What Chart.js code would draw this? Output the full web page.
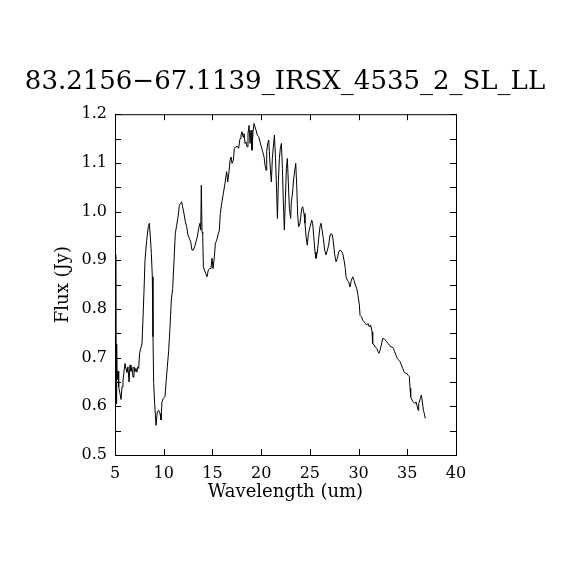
<!DOCTYPE html>
<html>
<head>
<meta charset="utf-8">
<script src="https://cdn.jsdelivr.net/npm/chart.js@4.4.1/dist/chart.umd.min.js"></script>
<style>
  html, body { margin: 0; padding: 0; background: #fff; }
  canvas { display: block; }
</style>
</head>
<body>
<canvas id="myChart" width="570" height="570"></canvas>
<script>
const chartTitle = "83.2156\u221267.1139_IRSX_4535_2_SL_LL";
const xLabel = "Wavelength (um)";
const yLabel = "Flux (Jy)";

// spectrum
const wavelength = [
    5.10, 5.13, 5.17, 5.22, 5.31, 5.38, 5.51, 5.62, 5.72, 5.82,
    5.92, 6.03, 6.13, 6.23, 6.33, 6.44, 6.54, 6.64, 6.74, 6.85,
    6.95, 7.05, 7.15, 7.25, 7.35, 7.43, 7.53, 7.64, 7.77, 7.88,
    7.98, 8.08, 8.25, 8.42, 8.52, 8.63, 8.73, 8.83, 8.90, 8.97,
    9.07, 9.21, 9.34, 9.48, 9.62, 9.72, 9.82, 9.96, 10.13, 10.23,
    10.37, 10.51, 10.64, 10.78, 10.92, 11.06, 11.19, 11.33, 11.50, 11.60,
    11.74, 11.84, 11.94, 12.08, 12.22, 12.36, 12.49, 12.63, 12.77, 12.90,
    13.04, 13.18, 13.31, 13.45, 13.59, 13.72, 13.80, 13.86, 13.93, 14.00,
    14.07, 14.17, 14.31, 14.44, 14.58, 14.72, 14.85, 14.96, 15.06, 15.20,
    15.30, 15.43, 15.57, 15.71, 15.81, 15.95, 16.12, 16.29, 16.46, 16.57,
    16.70, 16.81, 16.91, 17.01, 17.15, 17.25, 17.39, 17.56, 17.69, 17.83,
    17.93, 18.04, 18.14, 18.24, 18.35, 18.45, 18.55, 18.65, 18.76, 18.86,
    18.96, 19.06, 19.17, 19.27, 19.37, 19.48, 19.61, 19.75, 19.89, 20.02,
    20.16, 20.30, 20.40, 20.50, 20.57, 20.67, 20.78, 20.84, 20.95, 21.05,
    21.15, 21.25, 21.36, 21.46, 21.56, 21.67, 21.77, 21.87, 21.97, 22.08,
    22.18, 22.28, 22.38, 22.49, 22.59, 22.69, 22.79, 22.90, 23.03, 23.10,
    23.20, 23.34, 23.44, 23.55, 23.65, 23.75, 23.85, 23.99, 24.16, 24.26,
    24.40, 24.50, 24.61, 24.74, 24.85, 25.02, 25.19, 25.29, 25.43, 25.53,
    25.63, 25.77, 25.91, 26.04, 26.15, 26.25, 26.38, 26.52, 26.66, 26.80,
    26.93, 27.07, 27.17, 27.31, 27.41, 27.55, 27.69, 27.82, 27.96, 28.10,
    28.23, 28.37, 28.51, 28.64, 28.71, 28.85, 28.98, 29.12, 29.26, 29.40,
    29.53, 29.67, 29.81, 29.94, 30.08, 30.15, 30.29, 30.42, 30.56, 30.70,
    30.83, 30.97, 31.11, 31.24, 31.38, 31.45, 31.59, 31.72, 31.86, 32.00,
    32.10, 32.20, 32.34, 32.47, 32.61, 32.75, 32.88, 33.02, 33.16, 33.30,
    33.43, 33.57, 33.71, 33.84, 33.98, 34.12, 34.25, 34.39, 34.53, 34.66,
    34.80, 34.94, 35.07, 35.21, 35.28, 35.35, 35.49, 35.62, 35.76, 35.90,
    36.03, 36.10, 36.17, 36.24, 36.34, 36.44, 36.55, 36.65, 36.75, 36.85
];
const flux = [
    0.911, 0.605, 0.728, 0.655, 0.672, 0.640, 0.626, 0.614, 0.640, 0.652,
    0.671, 0.688, 0.677, 0.670, 0.681, 0.650, 0.685, 0.672, 0.680, 0.660,
    0.681, 0.671, 0.678, 0.670, 0.681, 0.678, 0.710, 0.719, 0.728, 0.784,
    0.839, 0.900, 0.941, 0.969, 0.976, 0.948, 0.914, 0.866, 0.743, 0.647,
    0.606, 0.561, 0.589, 0.592, 0.585, 0.572, 0.609, 0.616, 0.620, 0.647,
    0.681, 0.715, 0.760, 0.818, 0.842, 0.900, 0.955, 0.972, 0.993, 1.013,
    1.017, 1.020, 1.010, 0.996, 0.979, 0.969, 0.952, 0.945, 0.938, 0.921,
    0.921, 0.928, 0.938, 0.948, 0.965, 0.976, 0.962, 1.054, 0.958, 0.955,
    0.887, 0.880, 0.873, 0.866, 0.880, 0.883, 0.883, 0.904, 0.883, 0.907,
    0.934, 0.941, 0.952, 0.962, 0.996, 1.017, 1.037, 1.058, 1.082, 1.061,
    1.082, 1.106, 1.112, 1.099, 1.106, 1.130, 1.133, 1.134, 1.130, 1.150,
    1.157, 1.164, 1.153, 1.160, 1.140, 1.143, 1.133, 1.160, 1.177, 1.140,
    1.167, 1.126, 1.164, 1.181, 1.174, 1.167, 1.157, 1.154, 1.143, 1.133,
    1.123, 1.112, 1.095, 1.085, 1.123, 1.140, 1.147, 1.123, 1.085, 1.061,
    1.109, 1.133, 1.157, 1.116, 1.061, 0.986, 1.061, 1.109, 1.130, 1.140,
    1.089, 1.020, 0.962, 1.027, 1.089, 1.109, 1.061, 1.006, 0.986, 1.020,
    1.034, 1.068, 1.082, 1.099, 1.054, 0.993, 0.969, 0.976, 1.006, 1.010,
    0.996, 0.976, 0.948, 0.931, 0.955, 0.969, 0.982, 0.976, 0.941, 0.917,
    0.904, 0.917, 0.945, 0.969, 0.976, 0.962, 0.945, 0.921, 0.911, 0.921,
    0.931, 0.952, 0.955, 0.952, 0.938, 0.911, 0.897, 0.904, 0.917, 0.921,
    0.919, 0.914, 0.900, 0.883, 0.866, 0.859, 0.856, 0.845, 0.859, 0.866,
    0.859, 0.849, 0.842, 0.828, 0.808, 0.787, 0.784, 0.777, 0.774, 0.770,
    0.767, 0.770, 0.763, 0.767, 0.753, 0.729, 0.726, 0.722, 0.719, 0.712,
    0.709, 0.715, 0.726, 0.739, 0.739, 0.736, 0.733, 0.729, 0.726, 0.722,
    0.722, 0.719, 0.712, 0.705, 0.698, 0.695, 0.692, 0.685, 0.678, 0.671,
    0.668, 0.668, 0.664, 0.661, 0.637, 0.620, 0.613, 0.609, 0.606, 0.609,
    0.599, 0.592, 0.606, 0.609, 0.616, 0.623, 0.609, 0.592, 0.585, 0.575
];

const xMin = 5, xMax = 40, xStep = 5;
const yMin = 0.5, yMax = 1.2, yStep = 0.05;

const points = wavelength.map((w, i) => ({ x: w, y: flux[i] }));
const serif = "'DejaVu Serif', 'Liberation Serif', serif";

// box round the plot, with the ticks drawn inwards on all four sides
const framePlugin = {
    id: 'frame',
    afterDraw(chart) {
        const { ctx, chartArea: a, scales } = chart;
        const len = 6;
        ctx.save();
        ctx.strokeStyle = '#000';
        ctx.lineWidth = 1;
        ctx.strokeRect(a.left + 0.5, a.top + 0.5, a.right - a.left, a.bottom - a.top);
        ctx.beginPath();
        scales.x.ticks.forEach(t => {
            const px = Math.round(scales.x.getPixelForValue(t.value)) + 0.5;
            ctx.moveTo(px, a.bottom); ctx.lineTo(px, a.bottom - len);
            ctx.moveTo(px, a.top); ctx.lineTo(px, a.top + len);
        });
        scales.y.ticks.forEach(t => {
            const py = Math.round(scales.y.getPixelForValue(t.value)) + 0.5;
            ctx.moveTo(a.left, py); ctx.lineTo(a.left + len, py);
            ctx.moveTo(a.right, py); ctx.lineTo(a.right - len, py);
        });
        ctx.stroke();
        ctx.restore();
    }
};

const ctx = document.getElementById('myChart').getContext('2d');
new Chart(ctx, {
    type: 'line',
    data: {
        datasets: [{
            data: points,
            borderColor: '#000',
            borderWidth: 1,
            pointRadius: 0,
            tension: 0,
            fill: false
        }]
    },
    options: {
        responsive: false,
        animation: false,
        devicePixelRatio: 1,
        layout: { padding: 0 },
        plugins: {
            legend: { display: false },
            tooltip: { enabled: false },
            title: {
                display: true,
                text: chartTitle,
                color: '#000',
                font: { family: serif, size: 26, weight: 'normal' },
                padding: { top: 67, bottom: 16 }
            }
        },
        scales: {
            x: {
                type: 'linear',
                min: xMin,
                max: xMax,
                grid: { display: false, drawTicks: false },
                border: { display: false },
                ticks: {
                    stepSize: xStep,
                    color: '#000',
                    padding: 9,
                    maxRotation: 0,
                    font: { family: serif, size: 16 },
                    callback: v => String(v)
                },
                title: {
                    display: true,
                    text: xLabel,
                    color: '#000',
                    font: { family: serif, size: 18 },
                    padding: { top: 0, bottom: 67 }
                },
                afterFit: s => { s.height = 115; }
            },
            y: {
                type: 'linear',
                min: yMin,
                max: yMax,
                grid: { display: false, drawTicks: false },
                border: { display: false },
                ticks: {
                    stepSize: yStep,
                    color: '#000',
                    padding: 8,
                    font: { family: serif, size: 16 },
                    callback: v => {
                        const t = Math.round(v * 100);
                        return t % 10 === 0 ? (t / 100).toFixed(1) : '';
                    }
                },
                title: {
                    display: true,
                    text: yLabel,
                    color: '#000',
                    font: { family: serif, size: 18 },
                    padding: { top: 53, bottom: 0 }
                },
                afterFit: s => { s.width = 115; }
            },
            // empty right-hand scale that only keeps the plot box where it is
            yRight: {
                type: 'linear',
                position: 'right',
                min: yMin,
                max: yMax,
                grid: { display: false, drawTicks: false },
                border: { display: false },
                ticks: { display: false },
                afterFit: s => { s.width = 114; }
            }
        }
    },
    plugins: [framePlugin]
});
</script>
</body>
</html>
